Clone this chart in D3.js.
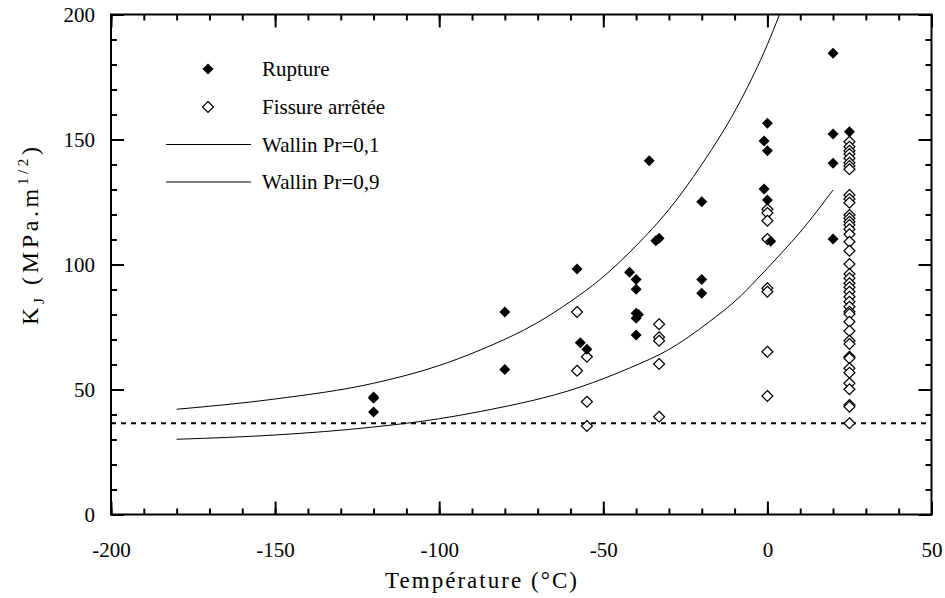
<!DOCTYPE html>
<html>
<head>
<meta charset="utf-8">
<script src="https://cdn.jsdelivr.net/npm/d3@7"></script>
<style>
  body { margin: 0; background: #fff; }
  svg { display: block; font-family: 'Liberation Serif', 'Times New Roman', serif; }
</style>
</head>
<body>
<div id="chart"></div>
<script>
// Rupture points (temperature °C, KJ MPa.m^1/2)
const ruptureT = [-120, -120, -120, -80, -80, -58, -57, -55, -42, -40, -40, -40, -39.3, -40, -40,
  -36, -34, -33, -20, -20, -20, 0, -1, 0, -1, 0, 1, 20, 20, 20, 20, 25];
const ruptureK = [47, 46.5, 41, 81, 58, 98.2, 68.7, 66.1, 96.9, 94, 90.1, 80.5, 80, 78.5, 71.8,
  141.5, 109.5, 110.5, 125.1, 94, 88.5, 156.5, 149.4, 145.5, 130.2, 125.8, 109.3, 184.5, 152.2, 140.5, 110.2, 153.1];

// Fissure arrêtée points
const arretT = [-58, -58, -55, -55, -55, -33, -33, -33, -33, -33, 0, 0, 0, 0, 0, 0, 0, 0,
  25, 25, 25, 25, 25, 25, 25, 25, 25, 25, 25, 25, 25, 25, 25, 25, 25, 25, 25, 25, 25, 25,
  25, 25, 25, 25, 25, 25, 25, 25, 25, 25, 25, 25, 25, 25, 25, 25, 25, 25, 25, 25, 25];
const arretK = [81, 57.5, 63.1, 45.1, 35.4, 76.1, 70.9, 69.5, 60.2, 39.1, 122.1, 120.6, 117.5, 110.2, 90.5, 89.1, 65.1, 47.4,
  149.1, 147.1, 145.5, 144.2, 142.5, 140.7, 139.4, 138.1, 127.8, 126.2, 124.7, 119.8, 118.5, 117.1, 115.8, 114.1,
  112.1, 109.1, 105.5, 100.2, 96.2, 94.5, 92.5, 90.9, 89.1, 87.1, 85.1, 83.1, 81.1, 80.2, 77.1, 73.4, 69.5, 68.2,
  63.1, 62.5, 58.5, 56.7, 52.5, 50.1, 43.8, 43.1, 36.5];

// Wallin curves
const wallin9T = [-180, -150, -120, -100, -87.5, -70, -60, -51, -40, -30, -20, -8, 0, 3.7];
const wallin9K = [42.1, 46.2, 52.5, 59.6, 65.8, 76.8, 85.2, 94, 107.5, 122, 140, 166, 188, 200];
const wallin1T = [-180, -150, -120, -100, -87.5, -57, -42, -30, -18, -8, -5, 5, 10, 20];
const wallin1K = [30.1, 31.8, 35, 38.3, 41.2, 51, 58.6, 66, 76.8, 87.6, 91.6, 105.6, 113, 129.8];

// Lower bound (dotted line)
const kMin = 36.5;

const xTicks = [-200, -150, -100, -50, 0, 50];
const yTicks = [0, 50, 100, 150, 200];

const legendItems = ['Rupture', 'Fissure arrêtée', 'Wallin Pr=0,1', 'Wallin Pr=0,9'];

const W = 945, H = 598;
const plotLeft = 111, plotRight = 931.5, plotTop = 14.5, plotBottom = 514.5;

const svg = d3.select('#chart').append('svg').attr('width', W).attr('height', H);

const x = d3.scaleLinear().domain([-200, 50]).range([plotLeft, plotRight]);
const y = d3.scaleLinear().domain([0, 200]).range([plotBottom, plotTop]);

const minorX = d3.range(-200, 51, 10);
const minorY = d3.range(0, 201, 10);

// Ticks on all four sides, pointing inward
function styleAxis(g) {
  g.attr('font-family', null).attr('font-size', 21);
  g.select('.domain').remove();
  g.selectAll('.tick line').attr('stroke', '#000').attr('stroke-width', 2);
  g.selectAll('.tick text').attr('fill', '#000');
}

svg.append('g').attr('transform', `translate(0,${plotBottom})`)
  .call(d3.axisBottom(x).tickValues(minorX).tickSize(-6).tickFormat(''))
  .call(styleAxis);
svg.append('g').attr('transform', `translate(0,${plotBottom})`)
  .call(d3.axisBottom(x).tickValues(xTicks).tickSize(-13).tickFormat((d) => String(d)))
  .call(styleAxis)
  .call((g) => g.selectAll('text').attr('y', 42).attr('dy', null));

svg.append('g').attr('transform', `translate(0,${plotTop})`)
  .call(d3.axisTop(x).tickValues(minorX).tickSize(-6).tickFormat(''))
  .call(styleAxis);
svg.append('g').attr('transform', `translate(0,${plotTop})`)
  .call(d3.axisTop(x).tickValues(xTicks).tickSize(-13).tickFormat(''))
  .call(styleAxis);

svg.append('g').attr('transform', `translate(${plotLeft},0)`)
  .call(d3.axisLeft(y).tickValues(minorY).tickSize(-6).tickFormat(''))
  .call(styleAxis);
svg.append('g').attr('transform', `translate(${plotLeft},0)`)
  .call(d3.axisLeft(y).tickValues(yTicks).tickSize(-13).tickFormat((d) => String(d)))
  .call(styleAxis)
  .call((g) => g.selectAll('text').attr('x', -16).attr('dy', '0.35em'));

svg.append('g').attr('transform', `translate(${plotRight},0)`)
  .call(d3.axisRight(y).tickValues(minorY).tickSize(-6).tickFormat(''))
  .call(styleAxis);
svg.append('g').attr('transform', `translate(${plotRight},0)`)
  .call(d3.axisRight(y).tickValues(yTicks).tickSize(-13).tickFormat(''))
  .call(styleAxis);

// Frame
svg.append('rect')
  .attr('x', plotLeft).attr('y', plotTop)
  .attr('width', plotRight - plotLeft).attr('height', plotBottom - plotTop)
  .attr('fill', 'none').attr('stroke', '#000').attr('stroke-width', 2);

// Dotted lower bound
svg.append('line')
  .attr('x1', plotLeft).attr('x2', plotRight)
  .attr('y1', y(kMin)).attr('y2', y(kMin))
  .attr('stroke', '#000').attr('stroke-width', 2).attr('stroke-dasharray', '5,5');

// Wallin curves
const line = d3.line().x((d) => x(d[0])).y((d) => y(d[1])).curve(d3.curveMonotoneX);
[[wallin1T, wallin1K], [wallin9T, wallin9K]].forEach(([ts, ks]) => {
  svg.append('path')
    .attr('d', line(ts.map((t, i) => [t, ks[i]])))
    .attr('fill', 'none').attr('stroke', '#000').attr('stroke-width', 1);
});

// Diamond markers
const diamond = 'M0,-5.5L5.5,0L0,5.5L-5.5,0Z';

svg.append('g').selectAll('path')
  .data(arretT.map((t, i) => [t, arretK[i]]))
  .join('path')
  .attr('d', diamond)
  .attr('transform', (d) => `translate(${x(d[0])},${y(d[1])})`)
  .attr('fill', '#fff').attr('stroke', '#000').attr('stroke-width', 1.2);

svg.append('g').selectAll('path')
  .data(ruptureT.map((t, i) => [t, ruptureK[i]]))
  .join('path')
  .attr('d', diamond)
  .attr('transform', (d) => `translate(${x(d[0])},${y(d[1])})`)
  .attr('fill', '#000');

// Legend
const legend = svg.append('g');
const legendY = [69, 107, 144.5, 182];
legend.append('path').attr('d', diamond).attr('transform', `translate(208,${legendY[0]})`).attr('fill', '#000');
legend.append('path').attr('d', diamond).attr('transform', `translate(208,${legendY[1]})`)
  .attr('fill', '#fff').attr('stroke', '#000').attr('stroke-width', 1.2);
[2, 3].forEach((i) => {
  legend.append('line').attr('x1', 166).attr('x2', 251)
    .attr('y1', legendY[i]).attr('y2', legendY[i])
    .attr('stroke', '#000').attr('stroke-width', 1);
});
legend.selectAll('text')
  .data(legendItems)
  .join('text')
  .attr('x', 262)
  .attr('y', (d, i) => legendY[i] + 7)
  .attr('font-size', 21)
  .text((d) => d);

// Axis titles
svg.append('text')
  .attr('x', 481).attr('y', 588)
  .attr('text-anchor', 'middle')
  .attr('font-size', 23)
  .attr('textLength', 192)
  .attr('lengthAdjust', 'spacing')
  .text('Température (°C)');

const yTitle = svg.append('text')
  .attr('transform', 'translate(38,325) rotate(-90)')
  .attr('font-size', 24)
  .attr('textLength', 178)
  .attr('lengthAdjust', 'spacing');
yTitle.append('tspan').text('K');
yTitle.append('tspan').attr('font-size', 15).attr('dy', 6).text('J');
yTitle.append('tspan').attr('dy', -6).text(' (MPa.m');
yTitle.append('tspan').attr('font-size', 15).attr('dy', -10).text('1/2');
yTitle.append('tspan').attr('dy', 10).text(')');
</script>
</body>
</html>
